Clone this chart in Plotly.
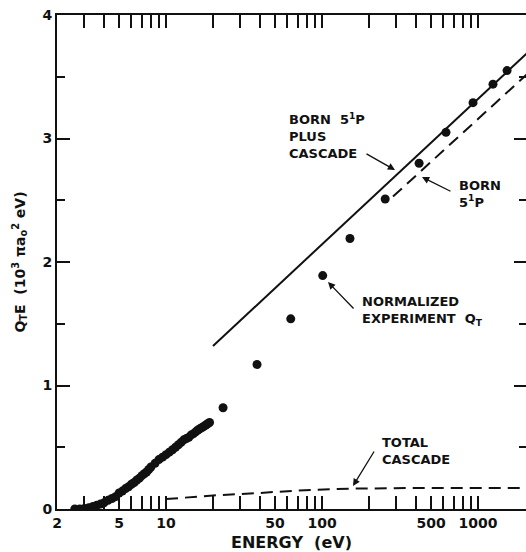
import math
import plotly.graph_objects as go

# ---------------- data ----------------
exp_energy = [2.6, 2.8, 3.0, 3.2, 3.4, 3.6, 3.8, 4.0, 4.25, 4.5, 4.75, 5.0, 5.25, 5.5, 5.75,
              6.0, 6.25, 6.5, 6.75, 7.0, 7.25, 7.5, 7.75, 8.0, 8.5, 9.0, 9.5, 10, 10.5, 11,
              11.5, 12, 12.5, 13, 13.5, 14, 14.5, 15, 15.5, 16, 16.5, 17, 17.5, 18, 18.5, 19,
              23.2, 38.3, 63, 101, 151, 254, 419, 623, 929, 1247, 1535]
exp_qte = [0.00, 0.00, 0.005, 0.01, 0.02, 0.03, 0.04, 0.05, 0.07, 0.085, 0.10, 0.13, 0.145, 0.165, 0.18,
           0.20, 0.215, 0.235, 0.25, 0.27, 0.285, 0.30, 0.32, 0.34, 0.37, 0.40, 0.42, 0.44, 0.46, 0.48,
           0.50, 0.52, 0.54, 0.56, 0.57, 0.58, 0.60, 0.61, 0.625, 0.64, 0.65, 0.66, 0.67, 0.68, 0.69, 0.70,
           0.82, 1.17, 1.54, 1.89, 2.19, 2.51, 2.80, 3.05, 3.29, 3.44, 3.55]

born_cascade_energy = [20, 2100]
born_cascade_qte = [1.32, 3.70]

born_energy = [285, 2100]
born_qte = [2.53, 3.53]

cascade_energy = [10, 20, 40, 70, 150, 400, 2100]
cascade_qte = [0.08, 0.11, 0.13, 0.15, 0.165, 0.17, 0.17]

x_major = [2, 5, 10, 50, 100, 500, 1000]
x_major_text = ["2", "5", "10", "50", "100", "500", "1000"]
x_minor = [3, 4, 6, 7, 8, 9, 20, 30, 40, 60, 70, 80, 90, 200, 300, 400, 600, 700, 800, 900]
y_major = [0, 1, 2, 3, 4]
y_minor = [0.5, 1.5, 2.5, 3.5]

# ---------------- layout helpers ----------------
W, H = 526, 552
L, T, B = 57, 15, 43
DEC = 156.0
X0 = math.log10(2)
X1 = X0 + (W - L) / DEC
Y_PX = (H - B - T) / 4.0


def px2x(px):
    return X0 + (px - L) / DEC


def py2y(py):
    return (H - B - py) / Y_PX


FONT = "DejaVu Sans"
INK = "#111111"

fig = go.Figure()
fig.add_trace(go.Scatter(x=exp_energy, y=exp_qte, mode="markers",
                         marker=dict(size=9, color=INK), showlegend=False))
fig.add_trace(go.Scatter(x=born_cascade_energy, y=born_cascade_qte, mode="lines",
                         line=dict(color=INK, width=2), showlegend=False))
fig.add_trace(go.Scatter(x=born_energy, y=born_qte, mode="lines",
                         line=dict(color=INK, width=2, dash="12px,7px"), showlegend=False))
fig.add_trace(go.Scatter(x=cascade_energy, y=cascade_qte, mode="lines", yaxis="y2",
                         line=dict(color=INK, width=2, dash="12px,7px"), showlegend=False))

anns = []
texts = [
    ("BORN  5<sup>1</sup>P<br>PLUS<br>CASCADE", 287, 136),
    ("BORN<br>5<sup>1</sup>P", 457, 194),
    ("NORMALIZED<br>EXPERIMENT  Q<sub>T</sub>", 360, 311),
    ("TOTAL<br>CASCADE", 380, 451),
]
for t, px, py in texts:
    anns.append(dict(text=t, x=px2x(px), y=py2y(py), xref="x", yref="y",
                     xanchor="left", yanchor="middle", align="left", showarrow=False,
                     font=dict(family=FONT, size=13, color=INK, weight="bold")))
arrows = [
    ((365, 153), (395, 170)),
    ((452, 192), (422, 177)),
    ((355, 310), (328, 282)),
    ((375, 450), (353, 486)),
]
for (tx, ty), (hx, hy) in arrows:
    anns.append(dict(text="", x=px2x(hx), y=py2y(hy), ax=px2x(tx), ay=py2y(ty),
                     xref="x", yref="y", axref="x", ayref="y", showarrow=True,
                     arrowhead=2, arrowsize=1.1, arrowwidth=1.3, arrowcolor=INK, standoff=0))

fig.update_layout(
    width=W, height=H,
    margin=dict(l=L, r=0, t=T, b=B),
    paper_bgcolor="white", plot_bgcolor="white",
    font=dict(family=FONT, color=INK),
    xaxis=dict(type="log", range=[X0, X1], tickmode="array", tickvals=x_major,
               ticktext=x_major_text, ticks="inside", ticklen=13, tickwidth=1.5,
               tickcolor=INK, showline=True, linewidth=2, linecolor=INK,
               mirror="allticks", showgrid=False, zeroline=False,
               tickfont=dict(family=FONT, size=14, color=INK, weight="bold"),
               minor=dict(tickmode="array", tickvals=x_minor, ticks="inside",
                          ticklen=8, tickwidth=1.5, tickcolor=INK, showgrid=False),
               title=dict(text="ENERGY  (eV)", standoff=9,
                          font=dict(family=FONT, size=16, color=INK, weight="bold"))),
    yaxis=dict(range=[0, 4], tickmode="array", tickvals=y_major, ticks="inside",
               ticklen=13, tickwidth=1.5, tickcolor=INK, showline=True, linewidth=2,
               linecolor=INK, mirror=False, showgrid=False, zeroline=False,
               tickfont=dict(family=FONT, size=14, color=INK, weight="bold"),
               minor=dict(tickmode="array", tickvals=y_minor, ticks="inside",
                          ticklen=8, tickwidth=1.5, tickcolor=INK, showgrid=False),
               title=dict(text="Q<sub>T</sub>E  (10<sup>3</sup> πa<sub>o</sub><sup>2</sup> eV)",
                          standoff=14,
                          font=dict(family=FONT, size=14, color=INK, weight="bold"))),
    yaxis2=dict(range=[0, 4], overlaying="y", side="right", anchor="x",
                tickmode="array", tickvals=y_major, ticks="inside", ticklen=12,
                tickwidth=1.5, tickcolor=INK, showline=False, showgrid=False,
                zeroline=False, showticklabels=False,
                minor=dict(tickmode="array", tickvals=y_minor, ticks="inside",
                           ticklen=7, tickwidth=1.5, tickcolor=INK, showgrid=False)),
    annotations=anns,
)

fig.write_html("out.html")
